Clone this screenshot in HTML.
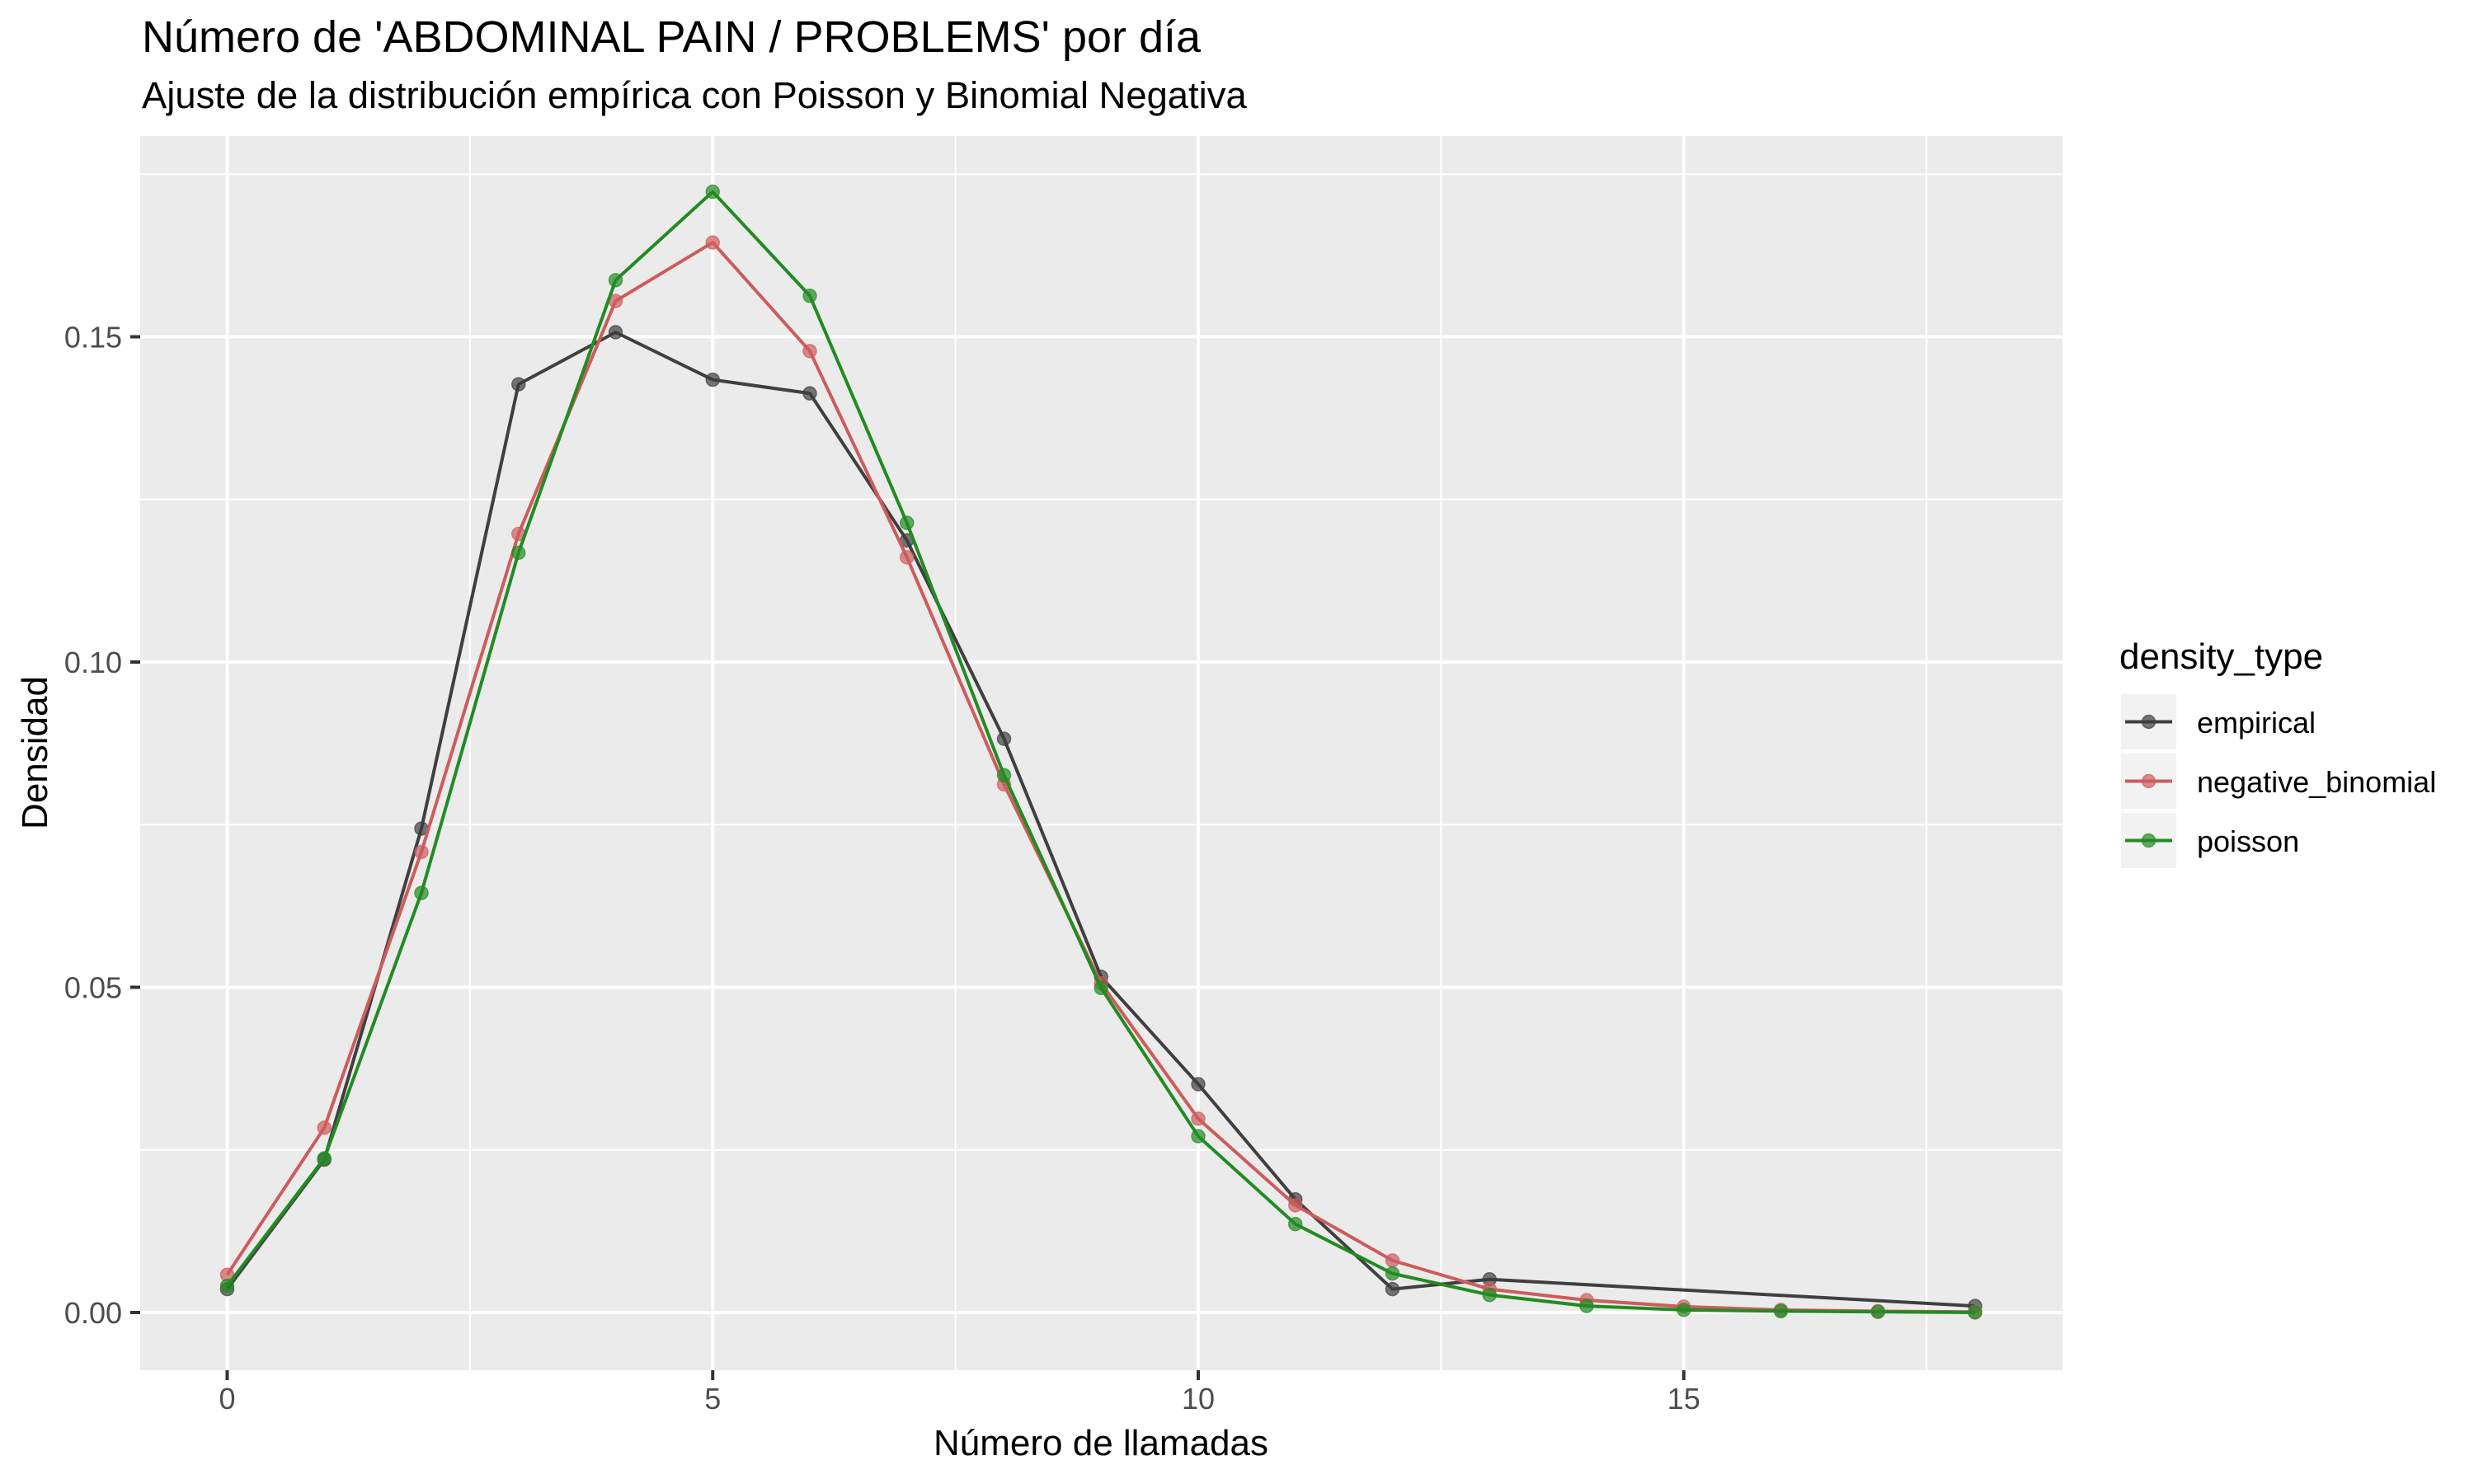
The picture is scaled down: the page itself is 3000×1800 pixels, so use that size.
<!DOCTYPE html>
<html><head><meta charset="utf-8"><style>
html,body{margin:0;padding:0;background:#fff;}
svg{display:block;font-family:"Liberation Sans",Arial,sans-serif;}
</style></head><body>
<svg id="chart" width="3000" height="1800" viewBox="0 0 3000 1800" xmlns="http://www.w3.org/2000/svg">
<text x="172" y="63" font-size="54" fill="#000">Número de 'ABDOMINAL PAIN / PROBLEMS' por día</text>
<text x="172" y="131" font-size="45.4" fill="#000">Ajuste de la distribución empírica con Poisson y Binomial Negativa</text>
<rect x="170" y="165" width="2331" height="1497" fill="#EBEBEB"/>
<g id="grid"></g>
<g id="series"></g>
<g id="axes"></g>
<text x="1335" y="1765" font-size="44" text-anchor="middle" fill="#000">Número de llamadas</text>
<text transform="translate(57,913) rotate(-90)" font-size="44" text-anchor="middle" fill="#000">Densidad</text>
<g>
<text x="2570" y="811" font-size="44" fill="#000">density_type</text>
<g id="legend-items"></g>
</g>
</svg>
<script>
const xValues = [0,1,2,3,4,5,6,7,8,9,10,11,12,13,14,15,16,17,18];
const empiricalX = [0,1,2,3,4,5,6,7,8,9,10,11,12,13,18];
const empiricalY = [0.0036,0.0235,0.0744,0.1427,0.1507,0.1434,0.1413,0.1187,0.0882,0.0516,0.0351,0.0174,0.0036,0.0051,0.0010];
const negBinomialY = [0.0058,0.0284,0.0708,0.1197,0.1555,0.1645,0.1478,0.1161,0.0812,0.0506,0.0298,0.0165,0.0080,0.0036,0.0019,0.0009,0.0004,0.0002,0.0001];
const poissonY = [0.0041,0.0237,0.0645,0.1168,0.1587,0.1723,0.1563,0.1214,0.0826,0.0499,0.0271,0.0136,0.0060,0.0027,0.0010,0.0004,0.0002,0.0001,0.0000];
const xTicks = [0,5,10,15];
const xMinor = [2.5,7.5,12.5,17.5];
const yTicks = [0,0.05,0.10,0.15];
const yTickLabels = ["0.00","0.05","0.10","0.15"];
const yMinor = [0.025,0.075,0.125,0.175];
const seriesNames = ["empirical","negative_binomial","poisson"];

const NS = "http://www.w3.org/2000/svg";
const PL = 170, PR = 2501, PT = 165, PB = 1662;
function xs(v){ return 275.5 + v*117.75; }
function ys(v){ return 1592 - v*7890; }
function mk(tag, attrs, parent){
  const e = document.createElementNS(NS, tag);
  for (const k in attrs) e.setAttribute(k, attrs[k]);
  parent.appendChild(e);
  return e;
}
const grid = document.getElementById('grid');
xMinor.forEach(v=>{
  const l = mk('line',{x1:xs(v),x2:xs(v),y1:PT,y2:PB,stroke:'#fff','stroke-width':2},grid);
  
  
});
yMinor.forEach(v=>{
  const l = mk('line',{x1:PL,x2:PR,y1:ys(v),y2:ys(v),stroke:'#fff','stroke-width':2},grid);
  
  
});
xTicks.forEach(v=>{
  const l = mk('line',{x1:xs(v),x2:xs(v),y1:PT,y2:PB,stroke:'#fff','stroke-width':4},grid);
  
  
});
yTicks.forEach(v=>{
  const l = mk('line',{x1:PL,x2:PR,y1:ys(v),y2:ys(v),stroke:'#fff','stroke-width':4},grid);
  
  
});
const axes = document.getElementById('axes');
xTicks.forEach(v=>{
  const t = mk('line',{x1:xs(v),x2:xs(v),y1:PB,y2:PB+12,stroke:'#333','stroke-width':4},axes);
  
  
  const tx = mk('text',{x:xs(v),y:1709,'font-size':36,'text-anchor':'middle',fill:'#4D4D4D'},axes);
  tx.textContent = String(v);
  
  
});
yTicks.forEach((v,i)=>{
  const t = mk('line',{x1:PL-12,x2:PL,y1:ys(v),y2:ys(v),stroke:'#333','stroke-width':4},axes);
  
  
  const tx = mk('text',{x:148,y:ys(v)+13,'font-size':36,'text-anchor':'end',fill:'#4D4D4D'},axes);
  tx.textContent = yTickLabels[i];
  
  
});
const colors = {empirical:'#3F3F3F', negative_binomial:'#CD5C5C', poisson:'#228B22'};
const seriesG = document.getElementById('series');
function drawSeries(name, xsArr, ysArr){
  const g = mk('g',{},seriesG);
  
  
  const pts = xsArr.map((x,i)=>xs(x)+','+ys(ysArr[i])).join(' ');
  const pl = mk('polyline',{points:pts,fill:'none',stroke:colors[name],'stroke-width':4,'stroke-linejoin':'round'},g);
  
  
  xsArr.forEach((x,i)=>{
    const c = mk('circle',{cx:xs(x),cy:ys(ysArr[i]),r:8,fill:colors[name],'fill-opacity':0.7,stroke:colors[name],'stroke-opacity':0.7,'stroke-width':1.5},g);
    
    
  });
}
drawSeries('empirical', empiricalX, empiricalY);
drawSeries('negative_binomial', xValues, negBinomialY);
drawSeries('poisson', xValues, poissonY);

const leg = document.getElementById('legend-items');
seriesNames.forEach((n,i)=>{
  const top = 842 + i*72;
  const g = mk('g',{},leg);
  
  
  mk('rect',{x:2572,y:top,width:67,height:67,fill:'#F2F2F2'},g);
  mk('line',{x1:2577,x2:2634,y1:top+33.5,y2:top+33.5,stroke:colors[n],'stroke-width':4},g);
  mk('circle',{cx:2605.5,cy:top+33.5,r:8,fill:colors[n],'fill-opacity':0.7,stroke:colors[n],'stroke-opacity':0.7,'stroke-width':1.5},g);
  const t = mk('text',{x:2664,y:top+47,'font-size':36,fill:'#000'},g);
  t.textContent = n;
  
  
});
</script>
</body></html>
